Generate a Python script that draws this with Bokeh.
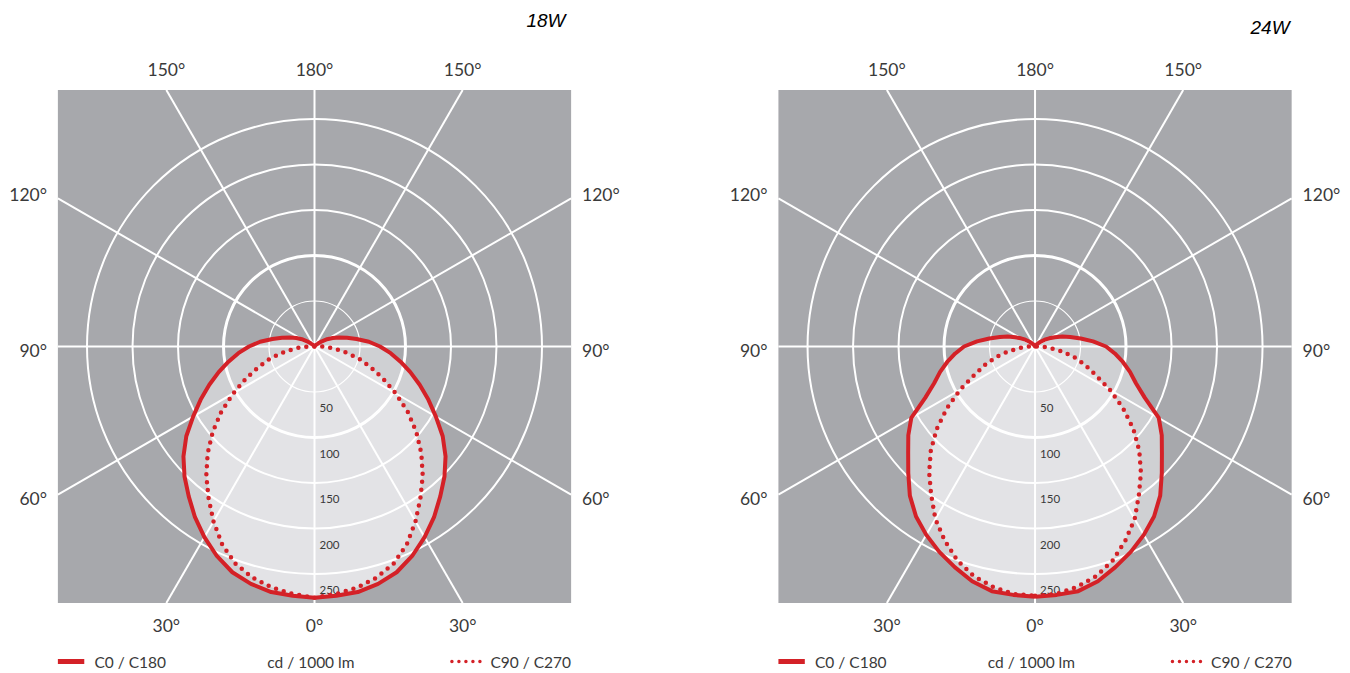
import numpy as np
from bokeh.plotting import figure
from bokeh.models import Range1d
from bokeh.embed import file_html
from bokeh.resources import INLINE
from bokeh.core.properties import value

# ---------------- data (cd / 1000 lm) ----------------
ANGLES = list(range(0, 181, 5))  # gamma angle, 0 = straight down

C0_18W = [276, 275, 274, 270, 264, 254, 242, 229, 215, 202, 188, 172, 154, 138, 123, 109,
          96, 84, 72, 60, 47, 37, 29, 22, 16, 10, 5, 3, 2, 1, 0, 0, 0, 0, 0, 0, 0]
C90_18W = [276, 273, 269, 263, 254, 240, 222, 203, 185, 166, 146, 125, 103, 83, 65, 50,
           33, 20, 8, 2, 0, 0, 0, 0, 0, 0, 0, 0, 0, 0, 0, 0, 0, 0, 0, 0, 0]
C0_24W = [275, 274, 273, 267, 258, 249, 239, 228, 214, 197, 182, 170, 157, 133, 118, 108,
          98, 88, 78, 64, 51, 40, 32, 24, 18, 13, 8, 5, 3, 1, 0, 0, 0, 0, 0, 0, 0]
C90_24W = [274, 273, 268, 261, 250, 235, 219, 199, 181, 162, 141, 118, 95, 73, 58, 44,
           29, 15, 6, 1, 0, 0, 0, 0, 0, 0, 0, 0, 0, 0, 0, 0, 0, 0, 0, 0, 0]

PANEL_TITLES = ["18W", "24W"]
PANEL_C0 = [C0_18W, C0_24W]
PANEL_C90 = [C90_18W, C90_24W]
RING_VALUES = [50, 100, 150, 200, 250]
SPOKE_ANGLES = [30, 60, 90, 120, 150]
LEGEND_C0 = "C0 / C180"
LEGEND_C90 = "C90 / C270"
UNIT_LABEL = "cd / 1000 lm"

# ---------------- layout ----------------
S = 0.91                 # px per cd
H = 282.0                # half size of grey square (cd)
CX = [0.0, 791.8]        # panel centres (cd)
RED = "#d42127"
BG = "#a7a8ac"
MID = "#cfd0d3"
LIGHT = "#e3e3e6"
TXT = "#3a3a3a"

W, Hpx = 1350, 673
x0 = (0 - 314) / S
y1 = (346 - 0) / S
p = figure(width=W, height=Hpx,
           x_range=Range1d(x0, x0 + W / S), y_range=Range1d(y1 - Hpx / S, y1),
           output_backend="svg", toolbar_location=None, min_border=0,
           x_axis_location=None, y_axis_location=None, outline_line_color=None)
p.grid.visible = False
p.background_fill_color = "white"


def closed_curve(cx, vals):
    th = np.radians(np.array(ANGLES, dtype=float))
    r = np.array(vals, dtype=float)
    xr = cx + r * np.sin(th)
    yr = -r * np.cos(th)
    xl = cx - r * np.sin(th)
    xs = np.concatenate([xr, xl[::-1]])
    ys = np.concatenate([yr, yr[::-1]])
    return xs, ys


def edge_point(cx, ang, sign):
    t = np.radians(ang)
    s, c = np.sin(t), np.cos(t)
    L = H / max(abs(s), abs(c))
    return cx + sign * L * s, -L * c


for k in range(2):
    cx = CX[k]
    # grey square
    p.quad(left=[cx - H], right=[cx + H], bottom=[-H], top=[H],
           fill_color=BG, line_color=None)
    # fills
    xs, ys = closed_curve(cx, PANEL_C0[k])
    p.patch(xs, ys, fill_color=MID, line_color=None)
    xd, yd = closed_curve(cx, PANEL_C90[k])
    p.patch(xd, yd, fill_color=LIGHT, line_color=None)

    # rings
    widths = {50: 1.2, 100: 3, 150: 2, 200: 2, 250: 2}
    for rv in RING_VALUES:
        p.circle(x=[cx], y=[0], radius=rv, fill_color=None,
                 line_color="white", line_width=widths[rv])
    # spokes
    sx0, sy0, sx1, sy1 = [], [], [], []
    for ang in SPOKE_ANGLES:
        for sign in (1, -1):
            ex, ey = edge_point(cx, ang, sign)
            sx0.append(cx); sy0.append(0); sx1.append(ex); sy1.append(ey)
    sx0 += [cx]; sy0 += [-H]; sx1 += [cx]; sy1 += [H]
    p.segment(x0=sx0, y0=sy0, x1=sx1, y1=sy1, line_color="white", line_width=2)

    # ring labels
    p.text(x=[cx + 5.5] * len(RING_VALUES), y=[-(v + 18) for v in RING_VALUES],
           text=[str(v) for v in RING_VALUES], text_font=value("Lato"),
           text_font_size="11.5px", text_color=TXT, text_baseline="middle",
           text_align="left")

    # angle labels
    lab_specs = []
    for ang in [0, 30, 60, 90, 120, 150, 180]:
        sides = (1,) if ang in (0, 180) else (1, -1)
        for sign in sides:
            ex, ey = edge_point(cx, ang, sign)
            t = np.radians(ang)
            if abs(np.cos(t)) >= abs(np.sin(t)) - 1e-9:
                if np.cos(t) > 0:
                    lab_specs.append((ex, -H - 25, "center", f"{ang}°"))
                else:
                    lab_specs.append((ex, H + 22, "center", f"{ang}°"))
            else:
                shift = 4 if ey > 0 else (-4 if ey < 0 else 0)
                if sign > 0:
                    lab_specs.append((cx + H + 12, ey + shift, "left", f"{ang}°"))
                else:
                    lab_specs.append((cx - H - 12, ey + shift, "right", f"{ang}°"))
    for align in ("left", "right", "center"):
        sub = [s for s in lab_specs if s[2] == align]
        p.text(x=[s[0] for s in sub], y=[s[1] for s in sub], text=[s[3] for s in sub],
               text_font=value("Lato"), text_font_size="17.5px", text_color=TXT,
               text_align=align, text_baseline="middle")

    # curves
    p.line(xd, yd, line_color=RED, line_width=4.5, line_dash="0 8", line_cap="round")
    p.line(xs, ys, line_color=RED, line_width=4, line_join="round")

    # title
    ty = 358.2 if k == 0 else 350.5
    tx = cx + (275.8 if k == 0 else 279.7)
    p.text(x=[tx], y=[ty], text=[PANEL_TITLES[k]], text_font=value("Liberation Sans"),
           text_font_style="italic", text_font_size="19px", text_color="black",
           text_align="right", text_baseline="middle")

    # legend row
    ly = -(661 - 346) / S
    p.segment(x0=[cx - H], y0=[ly], x1=[cx - H + 29], y1=[ly],
              line_color=RED, line_width=5, line_cap="butt")
    p.text(x=[cx - 241.8], y=[ly], text=[LEGEND_C0], text_font=value("Lato"),
           text_font_size="15.5px", text_color=TXT, text_align="left", text_baseline="middle")
    p.text(x=[cx - 4], y=[ly], text=[UNIT_LABEL], text_font=value("Lato"),
           text_font_size="15.5px", text_color=TXT, text_align="center", text_baseline="middle")
    p.segment(x0=[cx + 151], y0=[ly], x1=[cx + 184], y1=[ly],
              line_color=RED, line_width=3.5, line_dash="0 7", line_cap="round")
    p.text(x=[cx + 193.4], y=[ly], text=[LEGEND_C90], text_font=value("Lato"),
           text_font_size="15.5px", text_color=TXT, text_align="left", text_baseline="middle")

open("out.html", "w").write(file_html(p, INLINE))
